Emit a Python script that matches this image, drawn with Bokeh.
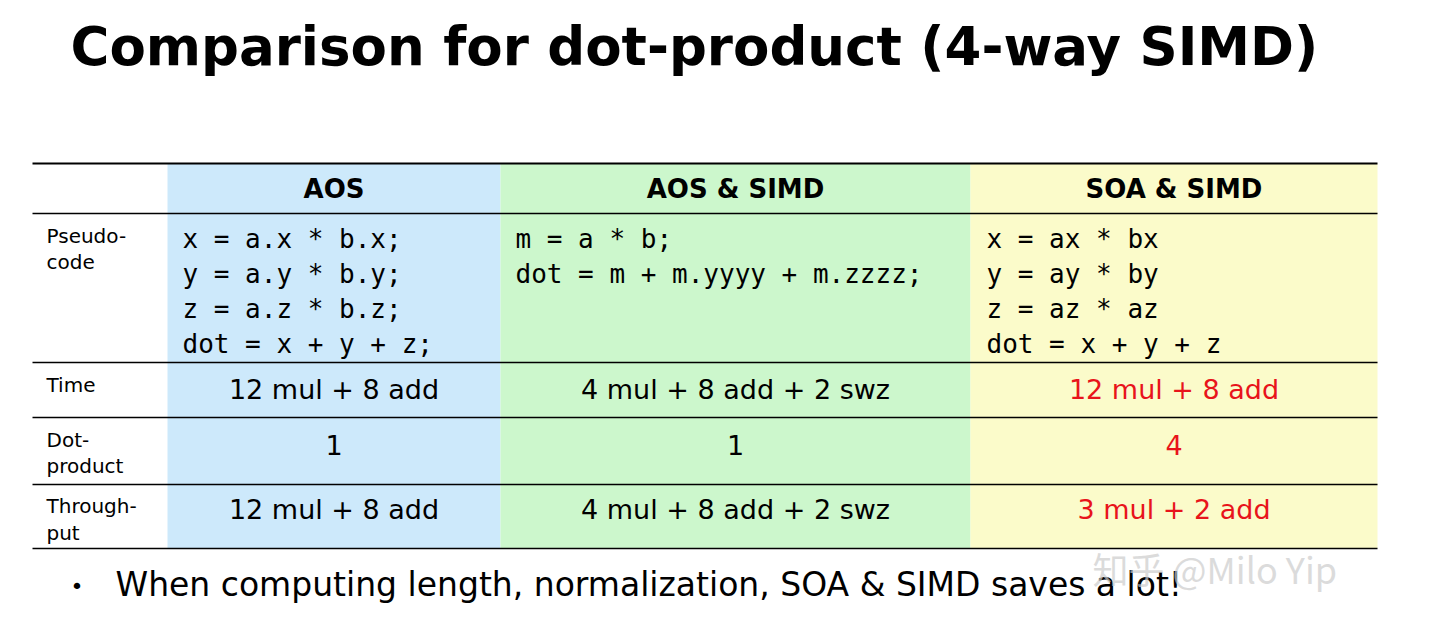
from bokeh.plotting import figure
from bokeh.models import Range1d, ColumnDataSource
from bokeh.core.properties import value
from bokeh.embed import file_html
from bokeh.resources import INLINE

title = "Comparison for dot-product (4-way SIMD)"
headers = ["AOS", "AOS & SIMD", "SOA & SIMD"]
col_colors = ["#cde9fb", "#ccf7cc", "#fbfbca"]
col_edges = [175, 508, 978, 1385]
row_lines = [221, 370, 425, 492, 556]
code = [
    ["x = a.x * b.x;", "y = a.y * b.y;", "z = a.z * b.z;", "dot = x + y + z;"],
    ["m = a * b;", "dot = m + m.yyyy + m.zzzz;"],
    ["x = ax * bx", "y = ay * by", "z = az * az", "dot = x + y + z"],
]
row_labels = [["Pseudo-", "code"], ["Time"], ["Dot-", "product"], ["Through-", "put"]]
time_vals = ["12 mul + 8 add", "4 mul + 8 add + 2 swz", "12 mul + 8 add"]
dot_vals = ["1", "1", "4"]
thr_vals = ["12 mul + 8 add", "4 mul + 8 add + 2 swz", "3 mul + 2 add"]
val_colors = ["#000000", "#000000", "#e8141b"]
bullet = "When computing length, normalization, SOA & SIMD saves a lot!"

p = figure(width=1424, height=624, output_backend="svg", toolbar_location=None,
           x_range=Range1d(8, 1432), y_range=Range1d(632, 8), min_border=0)
p.axis.visible = False
p.grid.visible = False
p.outline_line_color = None

p.quad(left=col_edges[:-1], right=col_edges[1:], top=[171]*3, bottom=[556]*3,
       fill_color=col_colors, line_color=None)
p.segment(x0=[40], x1=[1385], y0=[171], y1=[171], line_color="black", line_width=2)
p.segment(x0=[40]*len(row_lines), x1=[1385]*len(row_lines), y0=row_lines, y1=row_lines,
          line_color="black", line_width=1.5)

sans = value("DejaVu Sans")
p.text(x=[78], y=[54], text=[title], text_font=sans, text_font_style="bold",
       text_font_size="53px", text_baseline="middle")

centers = [(col_edges[i] + col_edges[i+1]) / 2 for i in range(3)]
p.text(x=centers, y=[196]*3, text=headers, text_font=sans, text_font_style="bold",
       text_font_size="26px", text_align="center", text_baseline="middle")

code_x = [190, 523, 994]
xs, ys, ts = [], [], []
for i, lines in enumerate(code):
    for j, t in enumerate(lines):
        xs.append(code_x[i]); ys.append(246 + 35 * j); ts.append(t)
p.text(x=xs, y=ys, text=ts, text_font=value("DejaVu Sans Mono"),
       text_font_size="26px", text_baseline="middle")

label_y = [[243, 269], [392], [447, 473], [513, 540]]
lx, ly, lt = [], [], []
for lab, yy in zip(row_labels, label_y):
    for t, y in zip(lab, yy):
        lx.append(54); ly.append(y); lt.append(t)
p.text(x=lx, y=ly, text=lt, text_font=sans, text_font_size="20px", text_baseline="middle")

for vals, y in [(time_vals, 397), (dot_vals, 452), (thr_vals, 517)]:
    src = ColumnDataSource(dict(x=centers, y=[y]*3, t=vals, c=val_colors))
    p.text(x="x", y="y", text="t", text_color="c", source=src, text_font=sans,
           text_font_size="27px", text_align="center", text_baseline="middle")

p.text(x=[78], y=[594], text=["•"], text_font=sans, text_font_size="22px", text_baseline="middle")
p.text(x=[123], y=[592], text=[bullet], text_font=sans, text_font_size="33px", text_baseline="middle")
p.text(x=[1100], y=[575], text=["知乎 @Milo Yip"], text_font=value("Noto Sans CJK SC"),
       text_font_size="36px", text_color="#cccccc", text_alpha=0.7, text_baseline="middle")

open("out.html", "w").write(file_html(p, INLINE))
